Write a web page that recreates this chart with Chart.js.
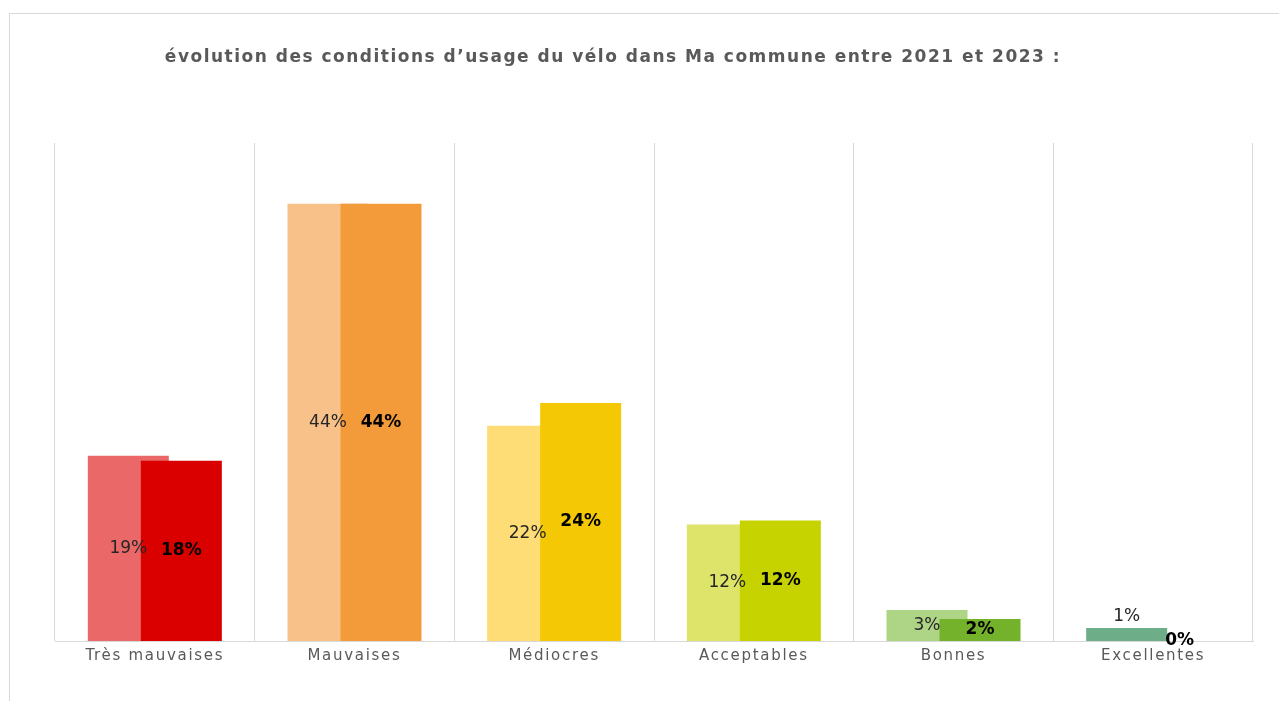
<!DOCTYPE html>
<html>
<head>
<meta charset="utf-8">
<script src="https://cdn.jsdelivr.net/npm/chart.js@4/dist/chart.umd.min.js"></script>
<style>
  html, body { margin: 0; padding: 0; background: #fff; overflow: hidden; }
  #frame { position: absolute; left: 9px; top: 13px; width: 1300px; height: 720px; border: 1px solid #d9d9d9; }
  #wrap { position: absolute; left: 0; top: 0; width: 1279px; height: 701px; }
</style>
</head>
<body>
<div id="frame"></div>
<div id="wrap"><canvas id="myChart" width="1279" height="701"></canvas></div>
<script>
const chartTitle = "évolution des conditions d’usage du vélo dans Ma commune entre 2021 et 2023 :";
const categories = ["Très mauvaises", "Mauvaises", "Médiocres", "Acceptables", "Bonnes", "Excellentes"];
const values2021 = [18.6, 43.9, 21.6, 11.7, 3.1, 1.3];
const values2023 = [18.1, 43.9, 23.9, 12.1, 2.2, 0];
const colors2021 = ["#ea6868", "#f8c189", "#fedd76", "#dee36a", "#add585", "#6dae89"];
const colors2023 = ["#db0000", "#f39a3a", "#f4c805", "#c7d300", "#74b22b", "#3f8f5f"];

const FONT = "'DejaVu Sans', Verdana, sans-serif";

const titlePlugin = {
  id: "titleText",
  beforeDraw(chart) {
    // axis labels are letter-spaced
    chart.ctx.letterSpacing = "1.7px";
  },
  afterDraw(chart) {
    const ctx = chart.ctx;
    ctx.save();
    ctx.letterSpacing = "1.5px";
    ctx.font = "bold 17px " + FONT;
    ctx.fillStyle = "#595959";
    ctx.textAlign = "center";
    ctx.textBaseline = "middle";
    ctx.fillText(chartTitle, 613, 58);
    ctx.restore();
  },
};

function drawLabels(chart, index) {
  const ctx = chart.ctx;
  const meta = chart.getDatasetMeta(index);
  const vals = chart.data.datasets[index].data;
  const bold = index === 1;
  ctx.save();
  ctx.font = (bold ? "bold " : "") + "17px " + FONT;
  ctx.fillStyle = bold ? "#000" : "#262626";
  ctx.textAlign = "center";
  ctx.textBaseline = "middle";
  meta.data.forEach((bar, i) => {
    const h = bar.base - bar.y;
    let y = (bar.y + bar.base) / 2;
    if (vals[i] > 0 && h < 20) y = bar.y - 11;
    ctx.fillText(Math.round(vals[i]) + "%", bar.x, y);
  });
  ctx.restore();
}

// 2021 behind, 2023 in front, labels on top of everything
const barsInOrder = {
  id: "barsInOrder",
  beforeDatasetsDraw(chart) {
    chart.ctx.letterSpacing = "0px";
    [0, 1].forEach(i => chart.getDatasetMeta(i).controller.draw());
    [0, 1].forEach(i => drawLabels(chart, i));
    return false;
  },
};

const ctx = document.getElementById("myChart").getContext("2d");
new Chart(ctx, {
  type: "bar",
  data: {
    labels: categories,
    datasets: [
      { label: "2021", data: values2021, backgroundColor: colors2021 },
      { label: "2023", data: values2023, backgroundColor: colors2023 },
    ],
  },
  options: {
    responsive: false,
    animation: false,
    events: [],
    categoryPercentage: 0.531,
    barPercentage: 1.528,
    layout: { padding: { left: 55, right: 26, top: 143, bottom: 30 } },
    plugins: { legend: { display: false }, tooltip: { enabled: false } },
    scales: {
      x: {
        grid: { color: "#d9d9d9", drawTicks: false, lineWidth: 1 },
        border: { color: "#d9d9d9" },
        ticks: {
          color: "#595959",
          font: { family: FONT, size: 15 },
          padding: 6,
          maxRotation: 0,
          autoSkip: false,
        },
      },
      y: { display: false, min: 0, max: 50 },
    },
  },
  plugins: [titlePlugin, barsInOrder],
});
</script>
</body>
</html>
